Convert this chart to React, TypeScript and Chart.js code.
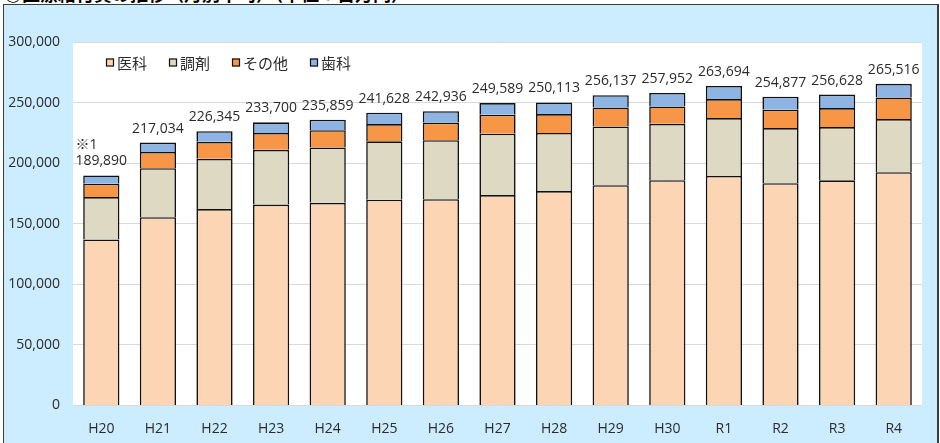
import React, { useEffect, useRef } from 'react';
import { Chart, registerables } from 'chart.js';

Chart.register(...registerables);

const categories = ['H20', 'H21', 'H22', 'H23', 'H24', 'H25', 'H26', 'H27', 'H28', 'H29', 'H30', 'R1', 'R2', 'R3', 'R4'];
const ika = [137000, 155400, 162100, 165800, 167300, 169800, 170300, 173700, 177000, 181800, 186000, 189500, 183500, 185800, 192500];
const chozai = [35000, 40500, 41500, 45200, 45700, 48200, 48700, 50600, 48000, 48500, 46500, 47700, 45500, 44000, 43900];
const sonota = [11000, 13300, 14000, 14000, 14200, 14300, 14500, 15700, 15500, 15700, 14300, 15700, 15100, 15700, 17800];
const shika = [6890, 7834, 8745, 8700, 8659, 9328, 9436, 9589, 9613, 10137, 11152, 10794, 10777, 11128, 11316];
const totals = [189890, 217034, 226345, 233700, 235859, 241628, 242936, 249589, 250113, 256137, 257952, 263694, 254877, 256628, 265516];
const seriesNames = ['医科', '調剤', 'その他', '歯科'];
const seriesColors = ['#FCD5B4', '#DDD9C3', '#F79646', '#8DB4E2'];
const noteLabel = '※1';
const titleText = '◎医療給付費の推移（月別平均）（単位：百万円）';

const NUM_FONT = '"Open Sans", "Noto Sans CJK JP", sans-serif';
const JP_FONT = '"Noto Sans CJK JP", sans-serif';
const TEXT_COLOR = '#2b2b2b';

const bgPlugin = {
  id: 'plotBg',
  beforeDraw(chart: any) {
    const { ctx, chartArea: a } = chart;
    ctx.save();
    ctx.fillStyle = '#ffffff';
    ctx.fillRect(a.left, a.top, a.right - a.left, a.bottom - a.top);
    ctx.restore();
  },
};

const totalLabelPlugin = {
  id: 'totalLabels',
  afterDatasetsDraw(chart: any) {
    const { ctx } = chart;
    const meta = chart.getDatasetMeta(3);
    const y = chart.scales.y;
    ctx.save();
    ctx.font = `14px ${NUM_FONT}`;
    ctx.fillStyle = TEXT_COLOR;
    ctx.textBaseline = 'bottom';
    totals.forEach((t, i) => {
      const el = meta.data[i];
      if (!el) return;
      const px = el.x;
      const py = y.getPixelForValue(t) - 7;
      const txt = t.toLocaleString('en-US');
      ctx.textAlign = 'center';
      ctx.fillText(txt, px, py);
      if (i === 0) {
        const w = ctx.measureText(txt).width;
        ctx.textAlign = 'left';
        ctx.fillText(noteLabel, px - w / 2, py - 16);
      }
    });
    ctx.restore();
  },
};

const legendPlugin = {
  id: 'customLegend',
  afterDraw(chart: any) {
    const { ctx, chartArea: a } = chart;
    ctx.save();
    ctx.font = `15px ${JP_FONT}`;
    ctx.textBaseline = 'middle';
    ctx.textAlign = 'left';
    let x = a.left + 33;
    const cy = a.top + 20.5;
    seriesNames.forEach((name, i) => {
      ctx.fillStyle = seriesColors[i];
      ctx.fillRect(x, cy - 4, 8, 8);
      ctx.strokeStyle = '#111';
      ctx.lineWidth = 1.2;
      ctx.strokeRect(x + 0.5, cy - 3.5, 7, 7);
      ctx.fillStyle = TEXT_COLOR;
      ctx.fillText(name, x + 11, cy + 1);
      x += 11 + ctx.measureText(name).width + 22;
    });
    ctx.restore();
  },
};

export default function App() {
  const ref = useRef<HTMLCanvasElement | null>(null);

  useEffect(() => {
    document.body.style.margin = '0';
    if (!ref.current) return;
    const series = [ika, chozai, sonota, shika];
    const chart = new Chart(ref.current, {
      type: 'bar',
      data: {
        labels: categories,
        datasets: series.map((d, i) => ({
          label: seriesNames[i],
          data: d,
          backgroundColor: seriesColors[i],
          borderColor: '#111111',
          borderWidth: 1.6,
          categoryPercentage: 1,
          barPercentage: 0.64,
        })),
      },
      options: {
        responsive: false,
        animation: false,
        layout: { padding: { top: 42, right: 18, left: 0, bottom: 0 } },
        plugins: {
          legend: { display: false },
          tooltip: { enabled: false },
        },
        scales: {
          x: {
            stacked: true,
            grid: { display: false },
            border: { display: false },
            ticks: { font: { size: 14, family: NUM_FONT }, color: TEXT_COLOR, padding: 7 },
            afterFit(s: any) {
              s.height = 37.5;
            },
          },
          y: {
            stacked: true,
            min: 0,
            max: 300000,
            ticks: {
              stepSize: 50000,
              padding: 13,
              font: { size: 14, family: NUM_FONT },
              color: TEXT_COLOR,
              callback: (v: any) => Number(v).toLocaleString('en-US'),
            },
            grid: { color: '#d9d9d9', drawTicks: false, lineWidth: 1 },
            border: { display: false },
            afterFit(s: any) {
              s.width = 73;
            },
          },
        },
      },
      plugins: [bgPlugin, totalLabelPlugin, legendPlugin],
    });
    return () => chart.destroy();
  }, []);

  return (
    <div style={{ position: 'relative', width: 940, height: 443, overflow: 'hidden', background: '#ffffff' }}>
      <div
        style={{
          position: 'absolute',
          left: 4,
          top: -16,
          fontFamily: JP_FONT,
          fontWeight: 'bold',
          fontSize: 18,
          lineHeight: '18px',
          color: '#000',
          whiteSpace: 'nowrap',
        }}
      >
        {titleText}
      </div>
      <div
        style={{
          position: 'absolute',
          left: 3,
          top: 4,
          width: 936,
          height: 460,
          boxSizing: 'border-box',
          background: '#CCECFF',
          borderLeft: '1.5px solid #3c3c3c',
          borderTop: '1.5px solid #3c3c3c',
          borderRight: '2px solid #3c3c3c',
        }}
      />
      <canvas ref={ref} width={940} height={443} style={{ position: 'absolute', left: 0, top: 0 }} />
    </div>
  );
}
